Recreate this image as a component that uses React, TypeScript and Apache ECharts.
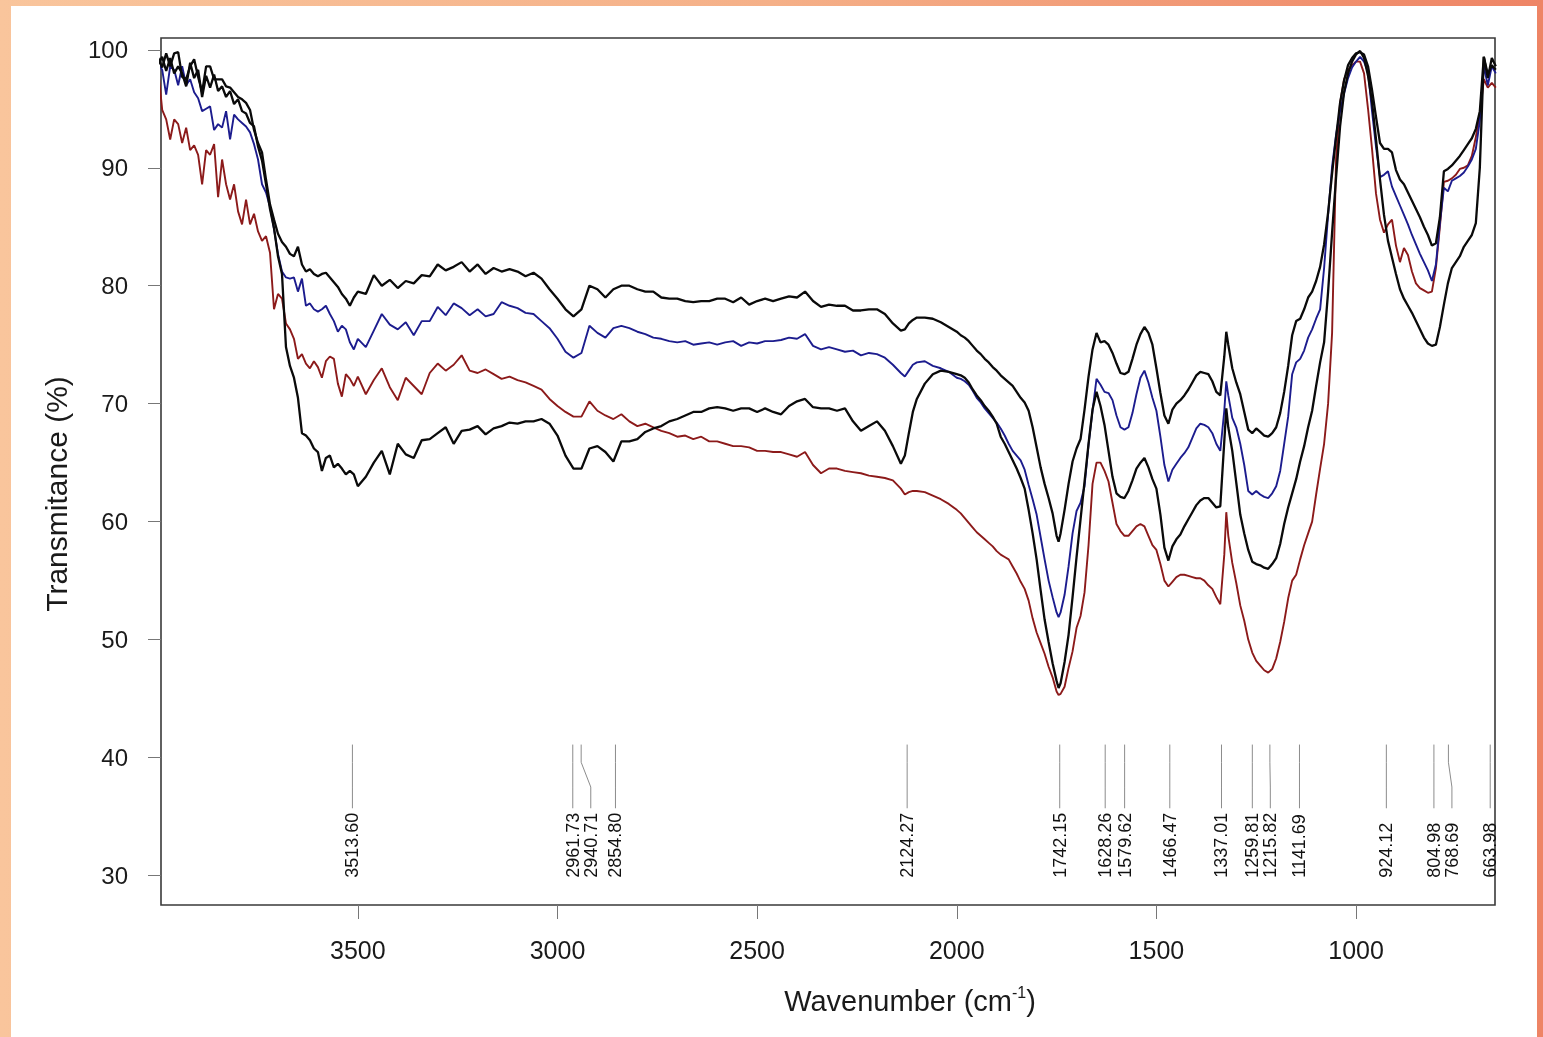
import React, { useEffect, useRef } from "react";
import * as echarts from "echarts";

// ---------- data ----------
const WAVENUMBERS = [
  4000, 3990, 3980, 3970, 3960, 3950, 3940, 3930, 3920, 3910,
  3900, 3890, 3880, 3870, 3860, 3850, 3840, 3830, 3820, 3810,
  3800, 3790, 3780, 3770, 3760, 3750, 3740, 3730, 3720, 3710,
  3700, 3690, 3680, 3670, 3660, 3650, 3640, 3630, 3620, 3610,
  3600, 3590, 3580, 3570, 3560, 3550, 3540, 3530, 3520, 3510,
  3500,
  3480, 3460, 3440, 3420, 3400, 3380, 3360, 3340, 3320, 3300,
  3280, 3260, 3240, 3220, 3200, 3180, 3160, 3140, 3120, 3100,
  3080, 3060, 3040, 3020, 3000, 2980, 2960, 2940, 2920, 2900,
  2880, 2860, 2840, 2820, 2800, 2780, 2760, 2740, 2720, 2700,
  2680, 2660, 2640, 2620, 2600, 2580, 2560, 2540, 2520, 2500,
  2480, 2460, 2440, 2420, 2400, 2380, 2360, 2340, 2320, 2300,
  2280, 2260, 2240, 2220, 2200, 2180, 2160, 2140, 2130, 2120,
  2110, 2100, 2080, 2060, 2040, 2020, 2000,
  1990, 1980, 1970, 1960, 1950, 1940, 1930, 1920, 1910, 1900,
  1890, 1880, 1870, 1860, 1850, 1840, 1830, 1820, 1810, 1800,
  1790, 1780, 1770, 1760, 1750, 1745, 1740, 1730, 1720, 1710,
  1700, 1690, 1680, 1670, 1660, 1650, 1640, 1630, 1620, 1610,
  1600, 1590, 1580, 1570, 1560, 1550, 1540, 1530, 1520, 1510,
  1500, 1490, 1480, 1470, 1460, 1450, 1440, 1430, 1420, 1410,
  1400, 1390, 1380, 1370, 1360, 1350, 1340, 1330, 1325, 1320,
  1310, 1300, 1290, 1280, 1270, 1260, 1250, 1240, 1230, 1220,
  1210, 1200, 1190, 1180, 1170, 1160, 1150, 1140, 1130, 1120,
  1110, 1100, 1090, 1080, 1070, 1060, 1050, 1040, 1030, 1020,
  1010, 1000, 990, 980, 970, 960, 950, 940, 930, 920,
  910, 900, 890, 880, 870, 860, 850, 840, 830, 820,
  810, 800, 790, 780, 770, 760, 750, 740, 730, 720,
  710, 700, 690, 680, 670, 660, 650,
];

// upper black spectrum
const SPECTRUM_A = [
  99.3, 98.5, 99.7, 98.6, 99.7, 99.8, 97.7, 97.5, 98.6, 99.2,
  97.7, 96.4, 98.6, 98.6, 97.5, 97.5, 97.5, 96.9, 96.8, 96.4,
  96.0, 95.8, 95.5, 94.9, 93.2, 92.1, 91.3, 89.0, 86.9, 85.6,
  84.4, 83.7, 83.3, 82.7, 82.5, 83.3, 81.8, 81.2, 81.4, 81.0,
  80.8, 81.0, 81.1, 80.7, 80.3, 79.9, 79.3, 78.9, 78.3, 79.0,
  79.5,
  79.3, 80.9, 80.0, 80.5, 79.8, 80.4, 80.2, 80.9, 80.8, 81.8,
  81.3, 81.6, 82.0, 81.2, 81.8, 81.0, 81.5, 81.2, 81.4, 81.2,
  80.8, 81.1, 80.6, 79.7, 78.9, 78.0, 77.4, 78.0, 80.0, 79.7,
  79.0, 79.7, 80.0, 80.0, 79.7, 79.5, 79.5, 79.0, 78.9, 78.9,
  78.7, 78.6, 78.7, 78.7, 78.9, 78.9, 78.6, 79.0, 78.4, 78.7,
  78.9, 78.7, 78.9, 79.1, 79.0, 79.5, 78.7, 78.2, 78.4, 78.3,
  78.3, 77.9, 77.9, 78.0, 78.0, 77.6, 76.8, 76.2, 76.3, 76.8,
  77.1, 77.3, 77.3, 77.2, 76.9, 76.5, 76.1,
  75.8, 75.6, 75.3, 74.9, 74.5, 74.2, 73.8, 73.5, 73.1, 72.8,
  72.4, 72.1, 71.8, 71.5, 71.0, 70.5, 70.1, 69.4, 68.0, 66.3,
  64.6, 63.2, 62.0, 60.7, 58.8, 58.3, 59.0, 61.0, 63.2, 65.1,
  66.2, 67.0, 69.5, 72.3, 74.6, 76.0, 75.2, 75.3, 75.0, 74.3,
  73.4, 72.6, 72.5, 72.7, 73.8, 75.0, 75.9, 76.5, 76.0, 75.0,
  73.0, 70.9, 69.0, 68.3, 69.5, 70.0, 70.3, 70.7, 71.2, 71.8,
  72.4, 72.7, 72.6, 72.5, 71.9, 71.0, 70.7, 74.0, 76.1, 75.0,
  73.0, 71.8, 70.8, 69.3, 67.8, 67.5, 67.9, 67.6, 67.3, 67.2,
  67.5, 68.0, 69.2, 71.0, 73.2, 75.8, 77.0, 77.2, 78.0, 79.0,
  79.5, 80.4, 81.6, 83.5, 86.2, 89.5, 92.6, 95.5, 97.4, 98.7,
  99.3, 99.7, 99.8, 99.6, 98.6, 96.6, 94.3, 92.1, 91.6, 91.6,
  91.3, 89.8, 89.0, 88.6, 87.9, 87.2, 86.5, 85.8, 85.0, 84.3,
  83.4, 83.6, 85.8, 89.7, 89.9, 90.2, 90.6, 91.0, 91.5, 92.0,
  92.5, 93.3, 94.8, 99.4, 97.6, 99.3, 98.6,
];

// blue spectrum
const SPECTRUM_B = [
  98.9, 98.3, 96.2, 98.6, 98.3, 97.0, 98.6, 97.0, 97.5, 96.4,
  95.9, 94.8, 95.0, 95.2, 93.2, 93.7, 93.4, 94.8, 92.4, 94.5,
  94.1, 93.8, 93.5, 93.0, 92.0, 90.7, 88.6, 87.9, 86.7, 84.8,
  82.7, 81.2, 80.7, 80.6, 80.7, 79.5, 80.6, 78.3, 78.5, 78.0,
  77.8, 78.0, 78.3, 77.6, 77.0, 76.1, 76.6, 76.3, 75.2, 74.6,
  75.5,
  74.8, 76.2, 77.6, 76.7, 76.3, 76.9, 75.8, 77.0, 77.0, 78.2,
  77.5, 78.5, 78.1, 77.5, 78.0, 77.4, 77.6, 78.6, 78.3, 78.1,
  77.7, 77.6, 77.0, 76.4, 75.5, 74.4, 73.9, 74.3, 76.6, 76.0,
  75.6, 76.4, 76.6, 76.4, 76.1, 75.9, 75.6, 75.5, 75.3, 75.2,
  75.3, 75.0, 75.1, 75.2, 75.0, 75.2, 75.3, 74.9, 75.2, 75.1,
  75.3, 75.3, 75.4, 75.6, 75.5, 75.9, 74.9, 74.6, 74.8, 74.6,
  74.4, 74.5, 74.1, 74.3, 74.2, 73.9, 73.3, 72.6, 72.3, 72.8,
  73.3, 73.5, 73.6, 73.2, 73.0, 72.7, 72.2,
  72.1, 71.9, 71.6, 71.1, 70.5, 70.1, 69.6, 69.2, 68.8, 68.4,
  67.9, 67.3, 66.6, 66.0, 65.6, 65.2, 64.4, 63.1, 61.9, 60.6,
  58.7, 56.8, 55.0, 53.6, 52.3, 51.9, 52.3, 53.8, 56.2, 59.0,
  60.9, 61.6, 63.0, 66.5, 69.4, 72.1, 71.6, 71.0, 70.9, 70.3,
  69.0, 68.0, 67.8, 68.0, 69.2, 70.8, 72.2, 72.8, 71.8, 70.5,
  69.4, 67.2, 64.8, 63.4, 64.4, 64.9, 65.4, 65.8, 66.3, 67.1,
  67.9, 68.3, 68.2, 68.0, 67.5, 66.6, 66.0, 69.4, 71.9, 70.7,
  68.8, 68.0, 66.6, 64.8, 62.6, 62.3, 62.6, 62.3, 62.1, 62.0,
  62.4, 63.0, 64.3, 66.6, 68.9, 72.5, 73.5, 73.8, 74.5, 75.6,
  76.3, 77.2, 78.0, 81.5, 86.0, 90.1, 92.8, 94.8, 96.3, 97.6,
  98.5, 99.0, 99.4, 99.0, 98.1, 94.8, 91.8, 89.2, 89.4, 89.7,
  88.4, 87.6, 86.8, 86.0, 85.2, 84.3, 83.5, 82.7, 82.0, 81.3,
  80.4, 81.8, 85.3, 88.3, 88.0, 88.9, 89.1, 89.3, 89.6, 90.1,
  90.7, 91.6, 94.0, 98.6, 97.0, 98.6, 98.0,
];

// red spectrum
const SPECTRUM_C = [
  98.3, 94.9, 94.1, 92.4, 94.1, 93.7, 92.1, 93.4, 91.5, 91.9,
  91.1, 88.6, 91.5, 91.1, 92.0, 87.5, 90.7, 88.6, 87.3, 88.6,
  86.3, 85.2, 87.3, 85.2, 86.1, 84.6, 83.8, 84.2, 82.8, 78.0,
  79.3, 78.9, 76.8, 76.3, 75.5, 73.8, 74.2, 73.4, 73.0, 73.6,
  73.1, 72.2, 73.6, 74.0, 73.8, 71.7, 70.6, 72.5, 72.1, 71.5,
  72.3,
  70.8, 72.0, 73.0, 71.4, 70.3, 72.2, 71.5, 70.8, 72.6, 73.4,
  72.8, 73.3, 74.1, 72.8, 72.6, 72.9, 72.5, 72.1, 72.3, 72.0,
  71.8, 71.5, 71.2, 70.4, 69.8, 69.3, 68.9, 68.9, 70.2, 69.4,
  69.0, 68.7, 69.1, 68.5, 68.1, 68.3, 68.0, 67.7, 67.5, 67.2,
  67.3, 67.0, 67.2, 66.8, 66.8, 66.6, 66.4, 66.4, 66.3, 66.0,
  66.0, 65.9, 65.9, 65.7, 65.5, 65.9, 64.8, 64.1, 64.5, 64.5,
  64.3, 64.2, 64.1, 63.9, 63.8, 63.7, 63.5, 62.8, 62.3, 62.5,
  62.6, 62.6, 62.5, 62.2, 61.9, 61.5, 61.0,
  60.7, 60.3, 59.9, 59.5, 59.1, 58.8, 58.5, 58.2, 57.9, 57.5,
  57.2, 57.0, 56.8, 56.2, 55.6, 54.9, 54.3, 53.3, 51.8, 50.6,
  49.7, 48.8, 47.7, 46.8, 45.6, 45.3, 45.4, 46.0, 47.6, 49.0,
  51.0, 52.0, 54.0, 58.0, 63.2, 65.0, 65.0, 64.3, 63.4, 61.6,
  59.8, 59.2, 58.8, 58.8, 59.2, 59.6, 59.8, 59.6, 58.8, 58.0,
  57.6, 56.4, 55.0, 54.5, 54.9, 55.3, 55.5, 55.5, 55.4, 55.3,
  55.2, 55.2, 55.0, 54.6, 54.3, 53.6, 53.0, 57.2, 60.8, 58.8,
  56.5, 54.8, 52.9, 51.6, 50.0, 48.9, 48.2, 47.8, 47.4, 47.2,
  47.5, 48.4, 49.8, 51.5, 53.5, 55.0, 55.5, 56.8, 58.0, 59.0,
  60.0, 62.3, 64.5, 66.6, 70.0, 76.0, 90.8, 95.5, 97.5, 98.3,
  98.7, 99.0, 99.0, 98.0, 95.0, 91.6, 87.8, 85.6, 84.5, 85.2,
  85.6, 83.4, 82.0, 83.2, 82.6, 81.2, 80.2, 79.8, 79.6, 79.4,
  79.5, 81.5, 85.0, 88.8, 88.9, 89.1, 89.4, 89.9, 90.0, 90.2,
  91.0, 92.6, 94.5, 97.5, 96.8, 97.2, 96.8,
];

// lower black spectrum
const SPECTRUM_D = [
  98.8, 99.4, 98.2, 99.3, 98.0, 98.6, 98.0, 96.9, 98.9, 97.6,
  98.3, 96.0, 97.8, 96.8, 97.9, 96.5, 96.9, 96.0, 96.5, 95.4,
  95.8, 94.8, 94.6, 93.8, 93.5, 91.8, 90.6, 88.6, 86.5, 84.9,
  82.5, 81.0, 74.8, 73.2, 72.2, 70.5, 67.5, 67.3, 66.9, 66.2,
  65.9, 64.3, 65.4, 65.6, 64.6, 64.9, 64.5, 64.0, 64.3, 64.0,
  63.0,
  63.8, 65.0, 66.0, 64.0, 66.6, 65.7, 65.4, 66.9, 67.0, 67.5,
  68.0, 66.6, 67.7, 67.8, 68.1, 67.4, 67.9, 68.1, 68.4, 68.3,
  68.5, 68.5, 68.7, 68.3, 67.3, 65.6, 64.5, 64.5, 66.2, 66.4,
  65.9, 65.1, 66.8, 66.8, 67.0, 67.6, 67.9, 68.1, 68.5, 68.7,
  69.0, 69.3, 69.3, 69.6, 69.7, 69.6, 69.4, 69.6, 69.6, 69.3,
  69.6, 69.3, 69.1, 69.8, 70.2, 70.4, 69.7, 69.6, 69.6, 69.4,
  69.6, 68.5, 67.7, 68.1, 68.5, 67.7, 66.4, 64.9, 65.6, 67.5,
  69.3, 70.4, 71.7, 72.5, 72.8, 72.7, 72.5,
  72.4, 72.2, 71.8, 71.2, 70.7, 70.3, 69.8, 69.4, 68.9, 68.3,
  67.2, 66.6, 65.9, 65.2, 64.5, 63.7, 62.8, 61.0, 59.0, 56.8,
  54.2, 51.7, 49.8, 48.0, 46.5, 45.9, 46.3, 48.1, 50.4, 53.6,
  57.0, 60.2, 63.4, 66.6, 69.5, 71.0, 69.8, 68.2, 66.0, 63.8,
  62.4, 62.1, 62.0, 62.6, 63.5, 64.5, 65.0, 65.4, 64.6, 63.6,
  62.8, 60.6, 57.8, 56.7, 57.9, 58.5, 58.9, 59.6, 60.2, 60.8,
  61.4, 61.8, 62.0, 62.0, 61.6, 61.2, 61.3, 66.8, 69.6, 68.0,
  66.0, 63.3, 60.6, 59.0, 57.6, 56.6, 56.4, 56.3, 56.1, 56.0,
  56.4, 56.9, 58.1, 59.8, 61.2, 62.4, 63.6, 65.1, 66.4, 68.0,
  69.4, 71.5, 73.5, 75.2, 79.5, 84.5, 89.2, 93.5, 96.4, 98.0,
  99.0, 99.6, 99.9, 99.3, 97.8, 95.6, 92.4, 89.0, 86.0, 83.8,
  82.4, 81.0, 79.7, 78.9, 78.3, 77.7, 77.0, 76.3, 75.6, 75.1,
  74.9, 75.0, 76.5, 78.4, 80.2, 81.5, 82.0, 82.5, 83.3, 83.8,
  84.3, 85.3, 90.0, 99.4, 97.9, 98.7, 98.3,
];

const PEAKS = [
  3513.6, 2961.73, 2940.71, 2854.8, 2124.27, 1742.15, 1628.26, 1579.62,
  1466.47, 1337.01, 1259.81, 1215.82, 1141.69, 924.12, 804.98, 768.69, 663.98,
];

const X_TICKS = [3500, 3000, 2500, 2000, 1500, 1000];
const Y_TICKS = [30, 40, 50, 60, 70, 80, 90, 100];

// ---------- layout / style constants ----------
const FONT = "'Liberation Sans', Arial, Helvetica, sans-serif";
const X_MIN = 652;
const X_MAX = 3993;
const Y_MIN = 27.5;
const Y_MAX = 101;
const STICK_TOP = 41.1;
const STICK_BEND_1 = 39.6;
const STICK_BEND_2 = 37.5;
const STICK_BOTTOM = 35.7;
const LABEL_BASE = 29.8;
const LABEL_GAP = 18;

function pairs(values: number[]) {
  return WAVENUMBERS.map((w, i) => [w, values[i]]);
}

function lineSeries(name: string, values: number[], color: string, width: number) {
  return {
    name,
    type: "line",
    data: pairs(values),
    showSymbol: false,
    symbol: "none",
    smooth: false,
    clip: true,
    lineStyle: { color, width },
    itemStyle: { color },
    z: 3,
  };
}

export default function App() {
  const ref = useRef<HTMLDivElement>(null);

  useEffect(() => {
    if (!ref.current) return;
    const chart = echarts.init(ref.current, null, { renderer: "svg" });

    const option: any = {
      animation: false,
      backgroundColor: "transparent",
      graphic: [
        {
          type: "rect",
          z: -20,
          silent: true,
          shape: { x: 0, y: 0, width: 1543, height: 1037 },
          style: {
            fill: new echarts.graphic.LinearGradient(0, 0, 1, 0, [
              { offset: 0, color: "#F9C59C" },
              { offset: 0.5, color: "#F5B088" },
              { offset: 1, color: "#EE8465" },
            ]),
          },
        },
        {
          type: "rect",
          z: -19,
          silent: true,
          shape: { x: 11, y: 6, width: 1526, height: 1031 },
          style: { fill: "#ffffff" },
        },
        {
          type: "text",
          x: 56,
          y: 494,
          rotation: Math.PI / 2,
          z: 10,
          style: {
            text: "Transmitance (%)",
            fontSize: 30,
            fontFamily: FONT,
            fill: "#1a1a1a",
            align: "center",
            verticalAlign: "middle",
            textAlign: "center",
            textVerticalAlign: "middle",
          },
        },
        {
          type: "text",
          x: 910,
          y: 1001,
          z: 10,
          style: {
            text: "Wavenumber (cm{sup|-1})",
            fontSize: 29,
            fontFamily: FONT,
            fill: "#1a1a1a",
            align: "center",
            verticalAlign: "middle",
            textAlign: "center",
            textVerticalAlign: "middle",
            lineHeight: 34,
            rich: {
              sup: {
                fontSize: 16,
                fontFamily: FONT,
                fill: "#1a1a1a",
                verticalAlign: "top",
                lineHeight: 34,
              },
            },
          },
        },
      ],
      grid: {
        left: 161,
        right: 48,
        top: 38,
        bottom: 132,
        show: true,
        borderColor: "#3a3a3a",
        borderWidth: 1.6,
        backgroundColor: "transparent",
      },
      xAxis: {
        type: "value",
        min: X_MIN,
        max: X_MAX,
        inverse: true,
        axisLine: { show: false },
        splitLine: { show: false },
        axisTick: {
          show: true,
          inside: false,
          length: 14,
          customValues: X_TICKS,
          lineStyle: { color: "#777", width: 1 },
        },
        axisLabel: {
          customValues: X_TICKS,
          formatter: (v: number) => String(v),
          fontSize: 25,
          fontFamily: FONT,
          color: "#1a1a1a",
          margin: 32,
        },
      },
      yAxis: {
        type: "value",
        min: Y_MIN,
        max: Y_MAX,
        axisLine: { show: false },
        splitLine: { show: false },
        axisTick: {
          show: true,
          inside: false,
          length: 13,
          customValues: Y_TICKS,
          lineStyle: { color: "#777", width: 1 },
        },
        axisLabel: {
          customValues: Y_TICKS,
          formatter: (v: number) => String(v),
          fontSize: 24,
          fontFamily: FONT,
          color: "#1a1a1a",
          margin: 33,
        },
      },
      series: [
        lineSeries("Sample C", SPECTRUM_C, "#8c1a1a", 1.9),
        lineSeries("Sample B", SPECTRUM_B, "#1c1c8e", 1.9),
        lineSeries("Sample D", SPECTRUM_D, "#0a0a0a", 2.3),
        lineSeries("Sample A", SPECTRUM_A, "#0a0a0a", 2.3),
        {
          name: "Peaks",
          type: "custom",
          coordinateSystem: "cartesian2d",
          data: PEAKS.map((p) => [p, STICK_TOP]),
          encode: { x: 0, y: 1 },
          clip: false,
          z: 4,
          renderItem: (params: any, api: any) => {
            const i = params.dataIndex;
            const xs = PEAKS.map((p) => api.coord([p, STICK_TOP])[0]);
            const lx: number[] = [];
            xs.forEach((x, k) => {
              lx.push(k === 0 ? x : Math.max(x, lx[k - 1] + LABEL_GAP));
            });
            const p = PEAKS[i];
            const yTop = api.coord([p, STICK_TOP])[1];
            const yB1 = api.coord([p, STICK_BEND_1])[1];
            const yB2 = api.coord([p, STICK_BEND_2])[1];
            const yBot = api.coord([p, STICK_BOTTOM])[1];
            const yLab = api.coord([p, LABEL_BASE])[1];
            return {
              type: "group",
              children: [
                {
                  type: "polyline",
                  shape: {
                    points: [
                      [xs[i], yTop],
                      [xs[i], yB1],
                      [lx[i], yB2],
                      [lx[i], yBot],
                    ],
                  },
                  style: { stroke: "#8c8c8c", lineWidth: 1, fill: null },
                },
                {
                  type: "text",
                  x: lx[i],
                  y: yLab,
                  rotation: Math.PI / 2,
                  style: {
                    text: p.toFixed(2),
                    fontSize: 18,
                    fontFamily: FONT,
                    fill: "#111111",
                    align: "left",
                    verticalAlign: "middle",
                    textAlign: "left",
                    textVerticalAlign: "middle",
                  },
                },
              ],
            };
          },
        },
      ],
    };

    chart.setOption(option);
    return () => chart.dispose();
  }, []);

  return (
    <div
      ref={ref}
      style={{ position: "fixed", left: 0, top: 0, width: 1543, height: 1037 }}
    />
  );
}
